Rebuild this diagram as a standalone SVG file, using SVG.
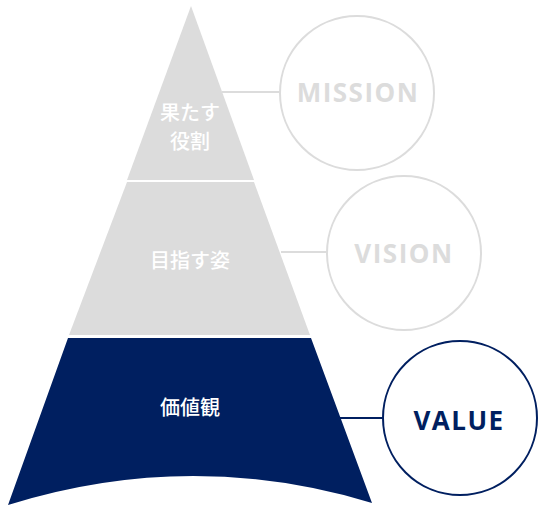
<svg xmlns="http://www.w3.org/2000/svg" width="539" height="515" viewBox="0 0 539 515">
<style>
.lvl{fill:#dcdcdc}
.jp{font-family:"Noto Sans CJK JP","Noto Sans",sans-serif;font-size:20px;font-weight:500;fill:#fff;text-anchor:middle}
.en{font-family:"Open Sans","Liberation Sans",sans-serif;font-size:26px;font-weight:700;text-anchor:middle;letter-spacing:1.5px}
.circ{fill:#fff;stroke-width:2}
.conn{stroke-width:2;fill:none}
</style>
<rect width="539" height="515" fill="#fff"/>
<g id="connectors">
<line class="conn" x1="222" y1="92" x2="281" y2="92" stroke="#dcdcdc"/>
<line class="conn" x1="281" y1="252" x2="327" y2="252" stroke="#dcdcdc"/>
<line class="conn" x1="338" y1="418" x2="383" y2="418" stroke="#001f60"/>
</g>
<g id="mission-level">
<polygon class="lvl" points="191,6 254,180 127,180"/>
<text class="jp" x="190" y="120">果たす</text>
<text class="jp" x="190" y="149">役割</text>
</g>
<g id="vision-level">
<polygon class="lvl" points="127,182 254,182 310,335 69,335"/>
<text class="jp" x="190" y="268">目指す姿</text>
</g>
<g id="value-level">
<path d="M68,338 L311,338 L372,503 Q190,448 8,505 Z" fill="#001f60"/>
<text class="jp" x="190" y="415">価値観</text>
</g>
<g id="mission">
<circle class="circ" cx="357" cy="93" r="77" stroke="#dcdcdc"/>
<text class="en" x="358" y="102" fill="#dcdcdc">MISSION</text>
</g>
<g id="vision">
<circle class="circ" cx="404" cy="253" r="77" stroke="#dcdcdc"/>
<text class="en" x="404" y="263" fill="#dcdcdc">VISION</text>
</g>
<g id="value">
<circle class="circ" cx="460" cy="418" r="77" stroke="#001f60"/>
<text class="en" x="459" y="430" fill="#001f60">VALUE</text>
</g>
</svg>
